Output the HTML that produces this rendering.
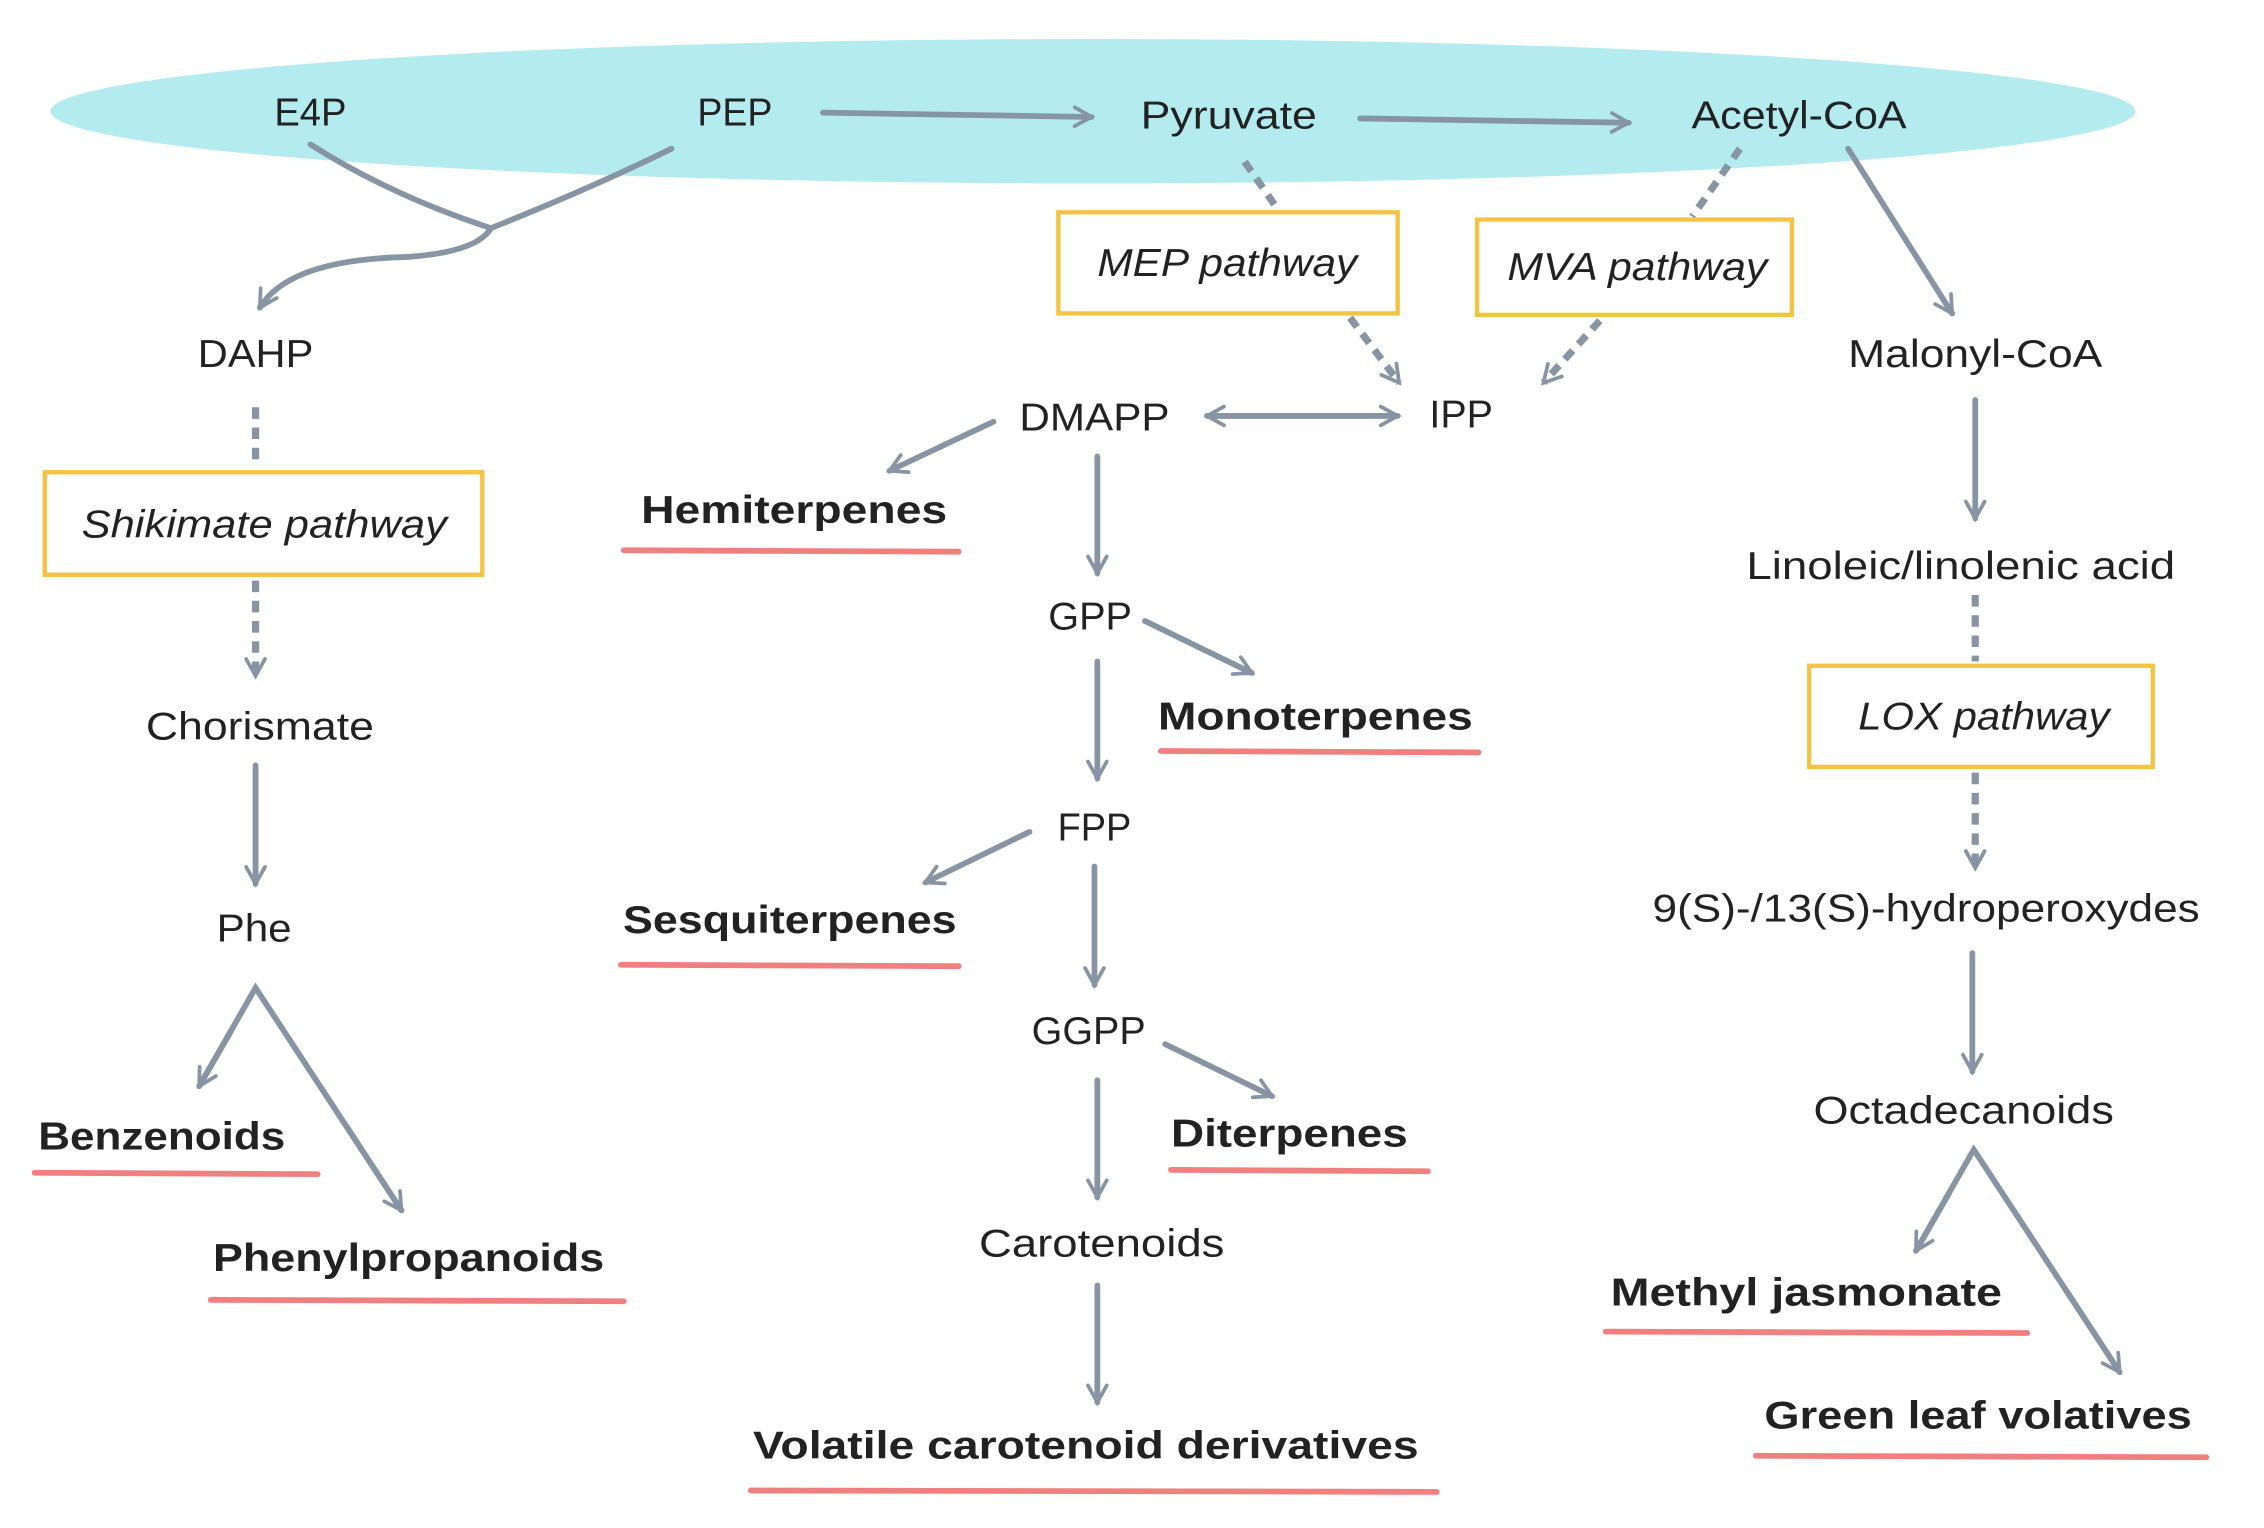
<!DOCTYPE html>
<html><head><meta charset="utf-8"><style>
html,body{margin:0;padding:0;background:#fff;}
svg{display:block;}
text{font-family:"Liberation Sans",sans-serif;fill:#222;font-size:27px;text-anchor:middle;}
.b{font-weight:bold;}
.i{font-style:italic;}
.a{stroke:#8794a3;stroke-width:4;fill:none;stroke-linecap:round;}
.d{stroke:#8794a3;stroke-width:5;fill:none;stroke-dasharray:8 6;}
.u{stroke:#f08080;stroke-width:4;stroke-linecap:round;}
.bx{fill:#fff;stroke:#f5c343;stroke-width:3;}
</style></head><body>
<svg width="2264" height="1528" viewBox="0 0 1568 1058" preserveAspectRatio="none" xmlns="http://www.w3.org/2000/svg">
<defs>
<marker id="m" viewBox="0 0 20 20" refX="18" refY="10" markerWidth="13" markerHeight="13" markerUnits="userSpaceOnUse" orient="auto" style="overflow:visible">
<path d="M0,0 L18,10 L0,20" fill="none" stroke="#8794a3" stroke-width="4" stroke-linecap="round"/>
</marker>
<marker id="ms" viewBox="0 0 20 20" refX="2" refY="10" markerWidth="13" markerHeight="13" markerUnits="userSpaceOnUse" orient="auto" style="overflow:visible">
<path d="M20,0 L2,10 L20,20" fill="none" stroke="#8794a3" stroke-width="4" stroke-linecap="round"/>
</marker>
</defs>
<ellipse cx="757" cy="77" rx="722" ry="50" fill="#b3ebef"/>
<text x="215" y="87" textLength="50" lengthAdjust="spacingAndGlyphs">E4P</text>
<text x="509" y="87" textLength="52" lengthAdjust="spacingAndGlyphs">PEP</text>
<text x="851" y="89" textLength="122" lengthAdjust="spacingAndGlyphs">Pyruvate</text>
<text x="1246" y="89" textLength="149" lengthAdjust="spacingAndGlyphs">Acetyl-CoA</text>
<line class="a" x1="570" y1="78" x2="756" y2="81" marker-end="url(#m)"/>
<line class="a" x1="942" y1="82" x2="1128" y2="85" marker-end="url(#m)"/>
<path class="a" d="M215,100 Q270,135 340,158 M465,103 Q410,130 340,158 Q330,175 280,178 Q200,180 180,213" stroke-width="5" marker-end="url(#m)"/>
<text x="177" y="254" textLength="80" lengthAdjust="spacingAndGlyphs">DAHP</text>
<line class="d" x1="177" y1="282" x2="177" y2="324"/>
<rect class="bx" x="31" y="327" width="303" height="71"/>
<text x="183" y="372" class="i" textLength="253" lengthAdjust="spacingAndGlyphs">Shikimate pathway</text>
<line class="d" x1="177" y1="402" x2="177" y2="468" marker-end="url(#m)"/>
<text x="180" y="512" textLength="158" lengthAdjust="spacingAndGlyphs">Chorismate</text>
<line class="a" x1="177" y1="530" x2="177" y2="612" marker-end="url(#m)"/>
<text x="176" y="652" textLength="52" lengthAdjust="spacingAndGlyphs">Phe</text>
<polyline class="a" points="138,752 177,684 278,838" />
<line class="a" x1="160" y1="714" x2="138" y2="752" marker-end="url(#m)"/>
<line class="a" x1="240" y1="780" x2="278" y2="838" marker-end="url(#m)"/>
<text x="112" y="796" class="b" textLength="171" lengthAdjust="spacingAndGlyphs">Benzenoids</text>
<line class="u" x1="24" y1="812" x2="220" y2="813"/>
<text x="283" y="880" class="b" textLength="271" lengthAdjust="spacingAndGlyphs">Phenylpropanoids</text>
<line class="u" x1="146" y1="900" x2="432" y2="901"/>

<line class="d" x1="862" y1="112" x2="885" y2="145"/>
<rect class="bx" x="733" y="147" width="235" height="70"/>
<text x="850" y="191" class="i" textLength="180" lengthAdjust="spacingAndGlyphs">MEP pathway</text>
<line class="d" x1="935" y1="220" x2="969" y2="265" marker-end="url(#m)"/>
<line class="d" x1="1205" y1="103" x2="1172" y2="150"/>
<rect class="bx" x="1023" y="152" width="218" height="66"/>
<text x="1134" y="194" class="i" textLength="180" lengthAdjust="spacingAndGlyphs">MVA pathway</text>
<line class="d" x1="1108" y1="222" x2="1069" y2="265" marker-end="url(#m)"/>
<text x="1012" y="296" textLength="44" lengthAdjust="spacingAndGlyphs">IPP</text>
<text x="758" y="298" textLength="104" lengthAdjust="spacingAndGlyphs">DMAPP</text>
<line class="a" x1="836" y1="288" x2="968" y2="288" marker-start="url(#ms)" marker-end="url(#m)"/>
<line class="a" x1="688" y1="292" x2="616" y2="326" marker-end="url(#m)"/>
<text x="550" y="362" class="b" textLength="212" lengthAdjust="spacingAndGlyphs">Hemiterpenes</text>
<line class="u" x1="432" y1="381" x2="664" y2="382"/>
<line class="a" x1="760" y1="316" x2="760" y2="397" marker-end="url(#m)"/>
<text x="755" y="436" textLength="58" lengthAdjust="spacingAndGlyphs">GPP</text>
<line class="a" x1="793" y1="430" x2="867" y2="466" marker-end="url(#m)"/>
<text x="911" y="505" class="b" textLength="218" lengthAdjust="spacingAndGlyphs">Monoterpenes</text>
<line class="u" x1="804" y1="520" x2="1024" y2="521"/>
<line class="a" x1="760" y1="458" x2="760" y2="539" marker-end="url(#m)"/>
<text x="758" y="582" textLength="51" lengthAdjust="spacingAndGlyphs">FPP</text>
<line class="a" x1="713" y1="576" x2="641" y2="611" marker-end="url(#m)"/>
<text x="547" y="646" class="b" textLength="231" lengthAdjust="spacingAndGlyphs">Sesquiterpenes</text>
<line class="u" x1="430" y1="668" x2="664" y2="669"/>
<line class="a" x1="758" y1="600" x2="758" y2="682" marker-end="url(#m)"/>
<text x="754" y="723" textLength="79" lengthAdjust="spacingAndGlyphs">GGPP</text>
<line class="a" x1="807" y1="723" x2="881" y2="759" marker-end="url(#m)"/>
<text x="893" y="794" class="b" textLength="164" lengthAdjust="spacingAndGlyphs">Diterpenes</text>
<line class="u" x1="811" y1="810" x2="989" y2="811"/>
<line class="a" x1="760" y1="748" x2="760" y2="829" marker-end="url(#m)"/>
<text x="763" y="870" textLength="170" lengthAdjust="spacingAndGlyphs">Carotenoids</text>
<line class="a" x1="760" y1="890" x2="760" y2="971" marker-end="url(#m)"/>
<text x="752" y="1010" class="b" textLength="461" lengthAdjust="spacingAndGlyphs">Volatile carotenoid derivatives</text>
<line class="u" x1="520" y1="1032" x2="995" y2="1033"/>

<line class="a" x1="1280" y1="103" x2="1352" y2="217" marker-end="url(#m)"/>
<text x="1368" y="254" textLength="176" lengthAdjust="spacingAndGlyphs">Malonyl-CoA</text>
<line class="a" x1="1368" y1="277" x2="1368" y2="359" marker-end="url(#m)"/>
<text x="1358" y="401" textLength="297" lengthAdjust="spacingAndGlyphs">Linoleic/linolenic acid</text>
<line class="d" x1="1368" y1="412" x2="1368" y2="458"/>
<rect class="bx" x="1253" y="461" width="238" height="70"/>
<text x="1374" y="505" class="i" textLength="174" lengthAdjust="spacingAndGlyphs">LOX pathway</text>
<line class="d" x1="1368" y1="535" x2="1368" y2="601" marker-end="url(#m)"/>
<text x="1334" y="638" textLength="379" lengthAdjust="spacingAndGlyphs">9(S)-/13(S)-hydroperoxydes</text>
<line class="a" x1="1366" y1="660" x2="1366" y2="742" marker-end="url(#m)"/>
<text x="1360" y="778" textLength="208" lengthAdjust="spacingAndGlyphs">Octadecanoids</text>
<polyline class="a" points="1327,866 1367,796 1468,950"/>
<line class="a" x1="1350" y1="826" x2="1327" y2="866" marker-end="url(#m)"/>
<line class="a" x1="1430" y1="892" x2="1468" y2="950" marker-end="url(#m)"/>
<text x="1251" y="904" class="b" textLength="271" lengthAdjust="spacingAndGlyphs">Methyl jasmonate</text>
<line class="u" x1="1112" y1="922" x2="1404" y2="923"/>
<text x="1370" y="989" class="b" textLength="296" lengthAdjust="spacingAndGlyphs">Green leaf volatives</text>
<line class="u" x1="1216" y1="1008" x2="1528" y2="1009"/>
</svg>
</body></html>
